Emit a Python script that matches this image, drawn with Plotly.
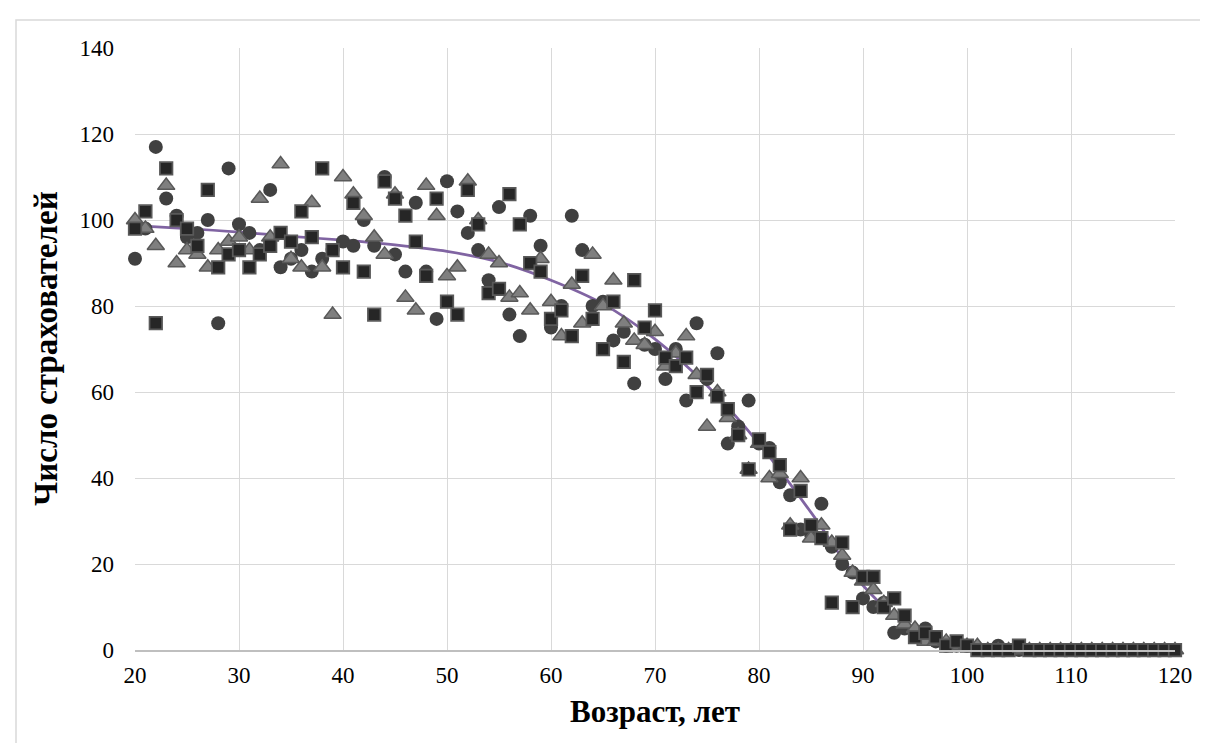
import plotly.graph_objects as go

ages = list(range(20, 121))

circles = [91, 98, 117, 105, 101, 96, 97, 100, 76, 112,
           99, 97, 93, 107, 89, 91, 93, 88, 91, 93,
           95, 94, 100, 94, 110, 92, 88, 104, 88, 77,
           109, 102, 97, 93, 86, 103, 78, 73, 101, 94,
           75, 80, 101, 93, 80, 81, 72, 74, 62, 71,
           70, 63, 70, 58, 76, 63, 69, 48, 52, 58,
           48, 47, 39, 36, 28, 27, 34, 24, 20, 18,
           12, 10, 11, 4, 5, 4, 5, 2, 1, 1,
           1, 0, 0, 1, 0, 0, 0, 0, 0, 0,
           0, 0, 0, 0, 0, 0, 0, 0, 0, 0, 0]

triangles = [100, 98, 94, 108, 90, 93, 92, 89, 93, 95,
             96, 93, 105, 96, 113, 91, 89, 104, 89, 78,
             110, 106, 101, 96, 92, 106, 82, 79, 108, 101,
             87, 89, 109, 100, 92, 90, 82, 83, 79, 91,
             81, 73, 85, 76, 92, 80, 86, 76, 72, 71,
             74, 66, 69, 73, 64, 52, 60, 54, 50, 42,
             48, 40, 41, 29, 40, 26, 29, 25, 22, 18,
             16, 14, 11, 8, 6, 5, 2, 2, 2, 1,
             1, 1, 0, 0, 0, 0, 0, 0, 0, 0,
             0, 0, 0, 0, 0, 0, 0, 0, 0, 0, 0]

squares = [98, 102, 76, 112, 100, 98, 94, 107, 89, 92,
           93, 89, 92, 94, 97, 95, 102, 96, 112, 93,
           89, 104, 88, 78, 109, 105, 101, 95, 87, 105,
           81, 78, 107, 99, 83, 84, 106, 99, 90, 88,
           77, 79, 73, 87, 77, 70, 81, 67, 86, 75,
           79, 68, 66, 68, 60, 64, 59, 56, 50, 42,
           49, 46, 43, 28, 37, 29, 26, 11, 25, 10,
           17, 17, 10, 12, 8, 3, 4, 3, 1, 2,
           1, 0, 0, 0, 0, 1, 0, 0, 0, 0,
           0, 0, 0, 0, 0, 0, 0, 0, 0, 0, 0]

trend_ages = [20, 25, 30, 35, 40, 45, 50, 55, 60, 65, 70, 75, 80, 85, 90, 95, 100, 105, 110, 115, 120]
trend_vals = [98.7, 98.0, 97.2, 96.2, 95.3, 94.2, 92.7, 90.2, 86.0, 80.5, 72.3, 61.5, 48.0, 32.0, 15.0, 4.5, 0.8, 0.1, 0, 0, 0]

x_ticks = list(range(20, 121, 10))
y_ticks = list(range(0, 141, 20))

x_title = "Возраст, лет"
y_title = "Число страхователей"

SERIF = "Liberation Serif, Times New Roman, serif"

fig = go.Figure()

fig.add_trace(go.Scatter(
    x=trend_ages, y=trend_vals, mode="lines",
    line=dict(color="#8064A2", width=2.75, shape="spline", smoothing=0.9),
    hoverinfo="skip", showlegend=False))

fig.add_trace(go.Scatter(
    x=ages, y=circles, mode="markers",
    marker=dict(symbol="circle", size=14, color="#404040",
                line=dict(width=0)),
    showlegend=False, cliponaxis=False))

fig.add_trace(go.Scatter(
    x=ages, y=triangles, mode="markers",
    marker=dict(symbol="triangle-up", size=15, color="#7f7f7f",
                line=dict(width=1.5, color="#595959")),
    showlegend=False, cliponaxis=False))

fig.add_trace(go.Scatter(
    x=ages, y=squares, mode="markers",
    marker=dict(symbol="square", size=12.5, color="#262626",
                line=dict(width=1.75, color="#595959")),
    showlegend=False, cliponaxis=False))

fig.update_layout(
    width=1208, height=743,
    margin=dict(l=127, r=41, t=40, b=101),
    paper_bgcolor="white", plot_bgcolor="white",
    font=dict(family=SERIF, size=23, color="#000000"),
    xaxis=dict(
        range=[20, 120], tickvals=x_ticks, ticktext=[str(v) for v in x_ticks],
        showgrid=True, gridcolor="#d9d9d9", gridwidth=1,
        showline=True, linecolor="#bfbfbf", linewidth=1.5,
        zeroline=False, ticks="", ticklabelstandoff=4,
        tickfont=dict(family=SERIF, size=23, color="#000000"),
    ),
    yaxis=dict(
        range=[0, 140], tickvals=y_ticks, ticktext=[str(v) for v in y_ticks],
        showgrid=True, gridcolor="#d9d9d9", gridwidth=1,
        showline=False, zeroline=False, ticks="", ticklabelstandoff=20,
        tickfont=dict(family=SERIF, size=23, color="#000000"),
    ),
    annotations=[
        dict(text="<b>" + x_title + "</b>", xref="paper", yref="paper",
             x=0.5, y=(642 - 703) / 602, xanchor="center", yanchor="middle",
             showarrow=False, font=dict(family=SERIF, size=31, color="#000000")),
        dict(text="<b>" + y_title + "</b>", xref="paper", yref="paper",
             x=(38 - 127) / 1040, y=0.5, xanchor="center", yanchor="middle",
             textangle=-90, showarrow=False,
             font=dict(family=SERIF, size=33, color="#000000")),
    ],
    shapes=[dict(type="rect", xref="paper", yref="paper",
                 x0=(8 - 127) / 1040, x1=(1203 - 127) / 1040,
                 y0=(642 - 760) / 602, y1=(642 - 12) / 602,
                 line=dict(color="#d9d9d9", width=1.5), fillcolor="rgba(0,0,0,0)",
                 layer="below")],
)

fig.write_html("out.html")
